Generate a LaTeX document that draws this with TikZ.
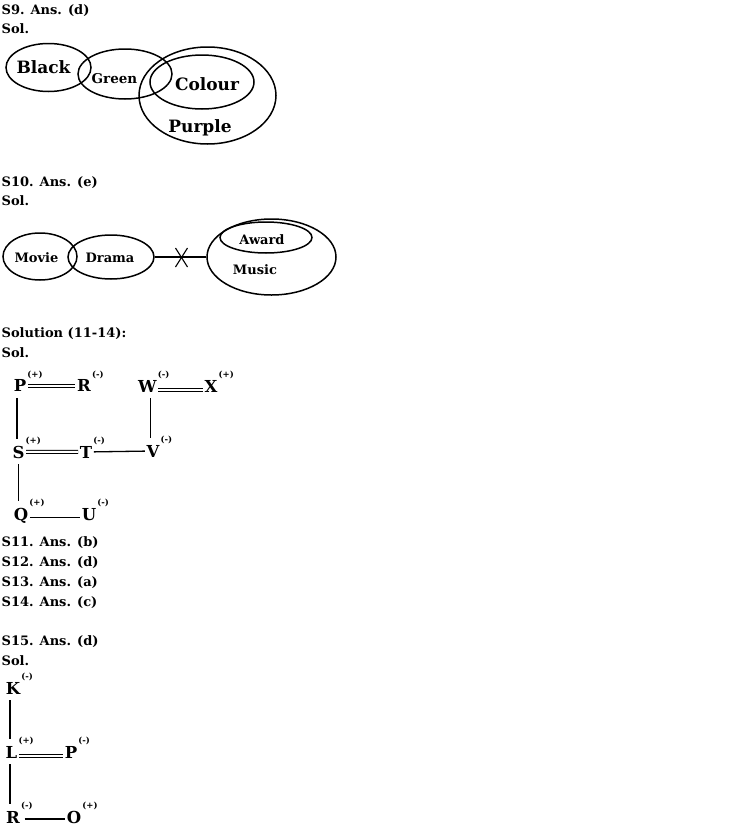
\documentclass[tikz,border=0pt]{standalone}
\usepackage{fontspec}
\setmainfont{DejaVu Serif}
\usetikzlibrary{shapes.geometric}

\begin{document}
\begin{tikzpicture}[x=1pt, y=-1pt, line width=1.3pt,
	head/.style={font=\bfseries\fontsize{13}{15}\selectfont, inner sep=0pt, anchor=base west},
	ell/.style={draw, ellipse, inner sep=0pt, line width=1.5pt},
	big/.style={font=\bfseries\fontsize{17}{19}\selectfont, inner sep=0pt, anchor=base},
	word/.style={font=\bfseries\fontsize{13}{15}\selectfont, inner sep=0pt, anchor=base},
	main/.style={font=\bfseries\fontsize{16.5}{18}\selectfont, inner sep=1pt, anchor=base},
	sgn/.style={font=\bfseries\fontsize{8.5}{9}\selectfont, inner sep=0pt, label distance=-1.5pt},
	dbl/.style={double, double distance=2pt, line width=1pt},
	vl/.style={shorten <=4.5pt, shorten >=5pt}]
	
	\useasboundingbox (0,0) rectangle (734,827);
	
	\node[head] (h9) at (1,14) {S9. Ans. (d)};
	\node[head] (s9) at (1,33) {Sol.};
	
	\node[ell, minimum width=85pt, minimum height=48pt] (black) at (48.5,67.5) {};
	\node[ell, minimum width=94pt, minimum height=50pt] (green) at (125,74) {};
	\node[ell, minimum width=137pt, minimum height=97pt] (purple) at (207.5,95.5) {};
	\node[ell, minimum width=104pt, minimum height=54pt] (colour) at (202,82) {};
	
	\node[big] (tblack) at (43.5,73) {Black};
	\node[word, font=\bfseries\fontsize{13.5}{15}\selectfont] (tgreen) at (114.5,83) {Green};
	\node[big] (tcolour) at (207,90) {Colour};
	\node[big] (tpurple) at (200,132) {Purple};
	
	\node[head] (h10) at (1,186) {S10. Ans. (e)};
	\node[head] (s10) at (1,205) {Sol.};
	
	\node[ell, minimum width=74pt, minimum height=47pt] (movie) at (40,256.5) {};
	\node[ell, minimum width=86pt, minimum height=44pt] (drama) at (111,257) {};
	\node[ell, minimum width=129pt, minimum height=76pt] (music) at (271.5,257) {};
	\node[ell, minimum width=92pt, minimum height=31pt] (award) at (266,237.5) {};
	
	\node[word] (tmovie) at (36.5,262) {Movie};
	\node[word] (tdrama) at (110,262) {Drama};
	\node[word] (taward) at (262,244) {Award};
	\node[word] (tmusic) at (255,274) {Music};
	
	\draw[line width=1.3pt] (drama) -- (music) coordinate[midway] (cut);
	\draw[line width=1.1pt] (cut) ++(-5,10) -- ++(12,-19);
	\draw[line width=1.1pt] (cut) ++(-5,-9) -- ++(12,19);
	
	\node[head] (h11) at (1,337) {Solution (11-14):};
	\node[head] (s11) at (1,357) {Sol.};
	
	\node[main, label={[sgn]north east:(+)}] (P) at (20,391.7) {P};
	\node[main, label={[sgn]north east:(-)}] (R) at (84,391.7) {R};
	\node[main, label={[sgn]north east:(-)}] (W) at (147.5,392) {W};
	\node[main, label={[sgn]north east:(+)}] (X) at (211,392) {X};
	\node[main, label={[sgn]north east:(+)}] (S) at (18.5,458) {S};
	\node[main, label={[sgn]north east:(-)}] (T) at (86,458) {T};
	\node[main, label={[sgn]north east:(-)}] (V) at (153,457) {V};
	\node[main, label={[sgn]north east:(+)}] (Q) at (21,520) {Q};
	\node[main, label={[sgn]north east:(-)}] (U) at (89,520) {U};
	
	\draw[dbl] (P) -- (R);
	\draw[dbl] ([yshift=2.5pt]W.base east) -- ([yshift=2.5pt]X.base west);
	\draw[dbl] (S) -- (T);
	\draw (T) -- (V);
	\draw ([yshift=2.3pt]Q.base east) -- ([yshift=2.3pt]U.base west);
	\draw[vl] ([xshift=-3pt]P.south) -- ([xshift=-3pt]P.south |- S.north);
	\draw[vl] (S.south) -- (S.south |- Q.north);
	\draw[vl] ([xshift=3pt]W.south) -- ([xshift=3pt]W.south |- V.north);
	
	\node[head] (a11) at (1,546) {S11. Ans. (b)};
	\node[head] (a12) at (1,566) {S12. Ans. (d)};
	\node[head] (a13) at (1,586) {S13. Ans. (a)};
	\node[head] (a14) at (1,606) {S14. Ans. (c)};
	
	\node[head] (h15) at (1,645) {S15. Ans. (d)};
	\node[head] (s15) at (1,665) {Sol.};
	
	\node[main, label={[sgn]north east:(-)}] (K) at (13,694) {K};
	\node[main, label={[sgn]north east:(+)}] (L) at (11.5,758) {L};
	\node[main, label={[sgn]north east:(-)}] (P2) at (71,758) {P};
	\node[main, label={[sgn]north east:(-)}] (R2) at (13,823) {R};
	\node[main, label={[sgn]north east:(+)}] (O) at (74,823) {O};
	
	\draw[dbl] ([yshift=2.3pt]L.base east) -- ([yshift=2.3pt]P2.base west);
	\draw[shorten <=3pt] ([yshift=4pt]R2.base east) -- ([yshift=4pt]O.base west);
	\draw[vl] ([xshift=-3pt]K.south) -- ([xshift=-3pt]K.south |- L.north);
	\draw[vl] ([xshift=-1.5pt]L.south) -- ([xshift=-1.5pt]L.south |- R2.north);
	
\end{tikzpicture}
\end{document}
